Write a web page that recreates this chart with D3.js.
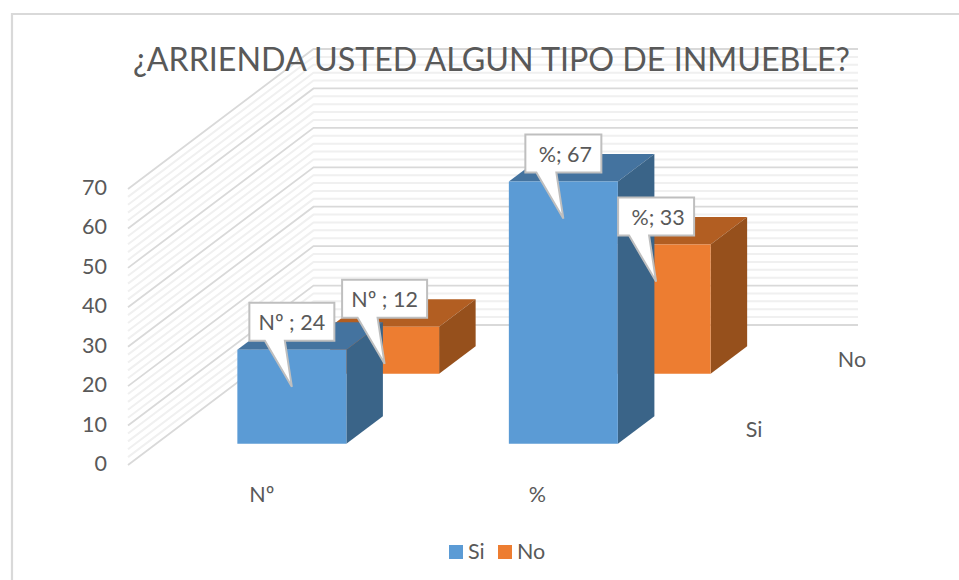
<!DOCTYPE html>
<html>
<head>
<meta charset="utf-8">
<script src="https://cdn.jsdelivr.net/npm/d3@7/dist/d3.min.js"></script>
<style>
html,body{margin:0;padding:0;background:#fff}
svg{display:block}
text{font-family:Lato,"Open Sans",sans-serif;fill:#595959}
</style>
</head>
<body>
<svg id="chart" width="959" height="580"></svg>
<script>
const titleText = "¿ARRIENDA USTED ALGUN TIPO DE INMUEBLE?";
const categories = ["Nº", "%"];
const seriesNames = ["Si", "No"];
const siValues = [24, 67];
const noValues = [12, 33];
const labelPrefixes = ["Nº ; ", "%; "];
const yTicks = [0, 10, 20, 30, 40, 50, 60, 70];
const yMinorTicks = d3.range(0, 71, 2);
const seriesColors = ["#5b9bd5", "#ed7d31"];
const seriesTops = ["#44739f", "#b25e22"];
const seriesSides = ["#3a6488", "#96501c"];

const svg = d3.select("#chart");

// Projection: x along the categories, v up the value axis, d into the depth of the chart
const x = d3.scaleBand().domain(categories).range([128, 671]);
const yWall = d3.scaleLinear().domain([0, 70]).range([0, 276]);
const yBar = d3.scaleLinear().domain([0, 70]).range([0, 274]);
const depthX = d3.scaleLinear().domain([0, 1]).range([0, 185.5]);
const depthY = d3.scaleLinear().domain([0, 1]).range([465, 325]);
const depthBand = d3.scaleBand().domain(seriesNames).range([0, 1]);
const barWidth = 109;
const barDepth = 0.197;
const wallRight = 858;

const pt = (px, h, d) => [px + depthX(d), depthY(d) - h];
const poly = pts => pts.map(p => p.join(",")).join(" ");

// Frame: only the top and left edges are in the picture
svg.append("path")
  .attr("d", "M12,580V14H959")
  .attr("fill", "none").attr("stroke", "#d9d9d9").attr("stroke-width", 2.2);

// Walls
const wall = svg.append("g").attr("fill", "none");
function gridLine(v, color, w) {
  const h = yWall(v);
  const a = pt(x.range()[0], h, 0), b = pt(x.range()[0], h, 1);
  wall.append("polyline")
    .attr("points", poly([a, b, [wallRight, b[1]]]))
    .attr("stroke", color).attr("stroke-width", w);
}
yMinorTicks.filter(v => !yTicks.includes(v)).forEach(v => gridLine(v, "#f0f0f0", 2));
yTicks.forEach(v => gridLine(v, "#d9d9d9", 1.8));

// Value axis labels
svg.append("g").selectAll("text").data(yTicks).join("text")
  .attr("x", 107).attr("text-anchor", "end")
  .attr("y", v => depthY(0) - yWall(v) + 6)
  .attr("font-size", 21.5)
  .text(d => d);

// Bars, back series first
const valuesBySeries = [siValues, noValues];
const bars = [];
[1, 0].forEach(s => {
  categories.forEach((c, i) => {
    const v = valuesBySeries[s][i];
    const d0 = depthBand(seriesNames[s]) + depthBand.bandwidth() / 2 - barDepth / 2;
    const d1 = d0 + barDepth;
    const cx = x(c) + x.bandwidth() / 2;
    const l = cx - barWidth / 2, r = cx + barWidth / 2;
    const h = yBar(v);
    const g = svg.append("g");
    g.append("polygon").attr("fill", seriesTops[s])
      .attr("points", poly([pt(l, h, d0), pt(r, h, d0), pt(r, h, d1), pt(l, h, d1)]));
    g.append("polygon").attr("fill", seriesSides[s])
      .attr("points", poly([pt(r, 0, d0), pt(r, h, d0), pt(r, h, d1), pt(r, 0, d1)]));
    g.append("polygon").attr("fill", seriesColors[s])
      .attr("points", poly([pt(l, 0, d0), pt(r, 0, d0), pt(r, h, d0), pt(l, h, d0)]));
    const top = pt(cx, h, d0);
    bars.push({s, i, v, tipX: top[0], tipY: top[1] + 37});
  });
});

// Callout labels
bars.sort((a, b) => a.s - b.s);
bars.forEach(b => {
  const w = b.i === 0 ? 85 : 76;
  const boxB = b.tipY - 46, boxT = boxB - 38;
  const L = b.tipX - w / 2, R = b.tipX + w / 2;
  const path = d3.path();
  path.moveTo(L, boxT); path.lineTo(R, boxT); path.lineTo(R, boxB);
  path.lineTo(b.tipX - 7, boxB); path.lineTo(b.tipX, b.tipY);
  path.lineTo(b.tipX - 27, boxB); path.lineTo(L, boxB); path.closePath();
  svg.append("path").attr("d", path.toString())
    .attr("fill", "#fff").attr("stroke", "#bfbfbf").attr("stroke-width", 2);
  svg.append("text").attr("x", b.tipX + (b.i === 0 ? 0 : 2)).attr("y", boxT + 27)
    .attr("text-anchor", "middle").attr("font-size", 21.5)
    .text(labelPrefixes[b.i] + b.v);
});

// Title
svg.append("text").attr("x", 491.5).attr("y", 71)
  .attr("text-anchor", "middle").attr("font-size", 33)
  .attr("textLength", 717).attr("lengthAdjust", "spacingAndGlyphs")
  .text(titleText);

// Category labels
svg.selectAll(".cat").data(categories).join("text")
  .attr("class", "cat").attr("font-size", 21.5)
  .attr("text-anchor", "middle")
  .attr("x", c => x(c) + x.bandwidth() / 2 - (c === categories[0] ? 2 : -2))
  .attr("y", 502).text(c => c);

// Series depth labels
const depthLabelX = [754, 852];
const depthLabelY = [437, 367];
svg.selectAll(".ser").data(seriesNames).join("text")
  .attr("class", "ser").attr("font-size", 21.5).attr("text-anchor", "middle")
  .attr("x", (d, i) => depthLabelX[i]).attr("y", (d, i) => depthLabelY[i]).text(d => d);

// Legend
const legendX = [449, 498];
seriesNames.forEach((n, i) => {
  svg.append("rect").attr("x", legendX[i]).attr("y", 545).attr("width", 14).attr("height", 14)
    .attr("fill", seriesColors[i]);
  svg.append("text").attr("x", legendX[i] + 19).attr("y", 559).attr("font-size", 21.5).text(n);
});
</script>
</body>
</html>
